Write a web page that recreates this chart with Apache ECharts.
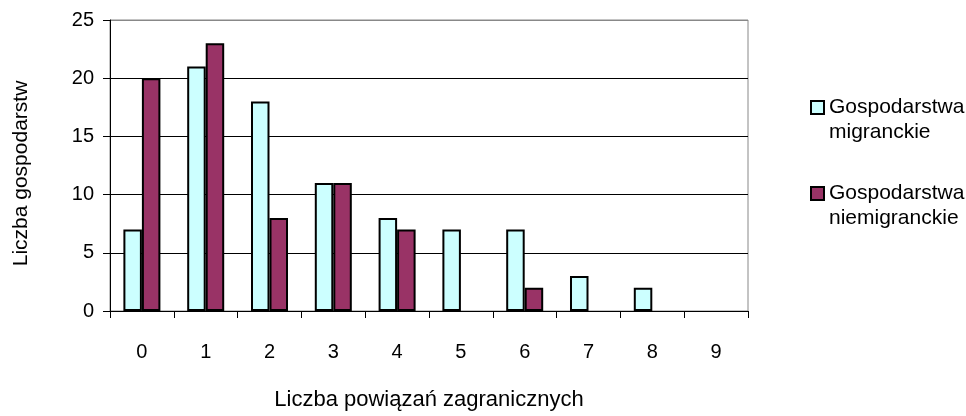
<!DOCTYPE html>
<html><head><meta charset="utf-8">
<script src="https://cdn.jsdelivr.net/npm/echarts@6/dist/echarts.min.js"></script>
<style>html,body{margin:0;padding:0;background:#fff}#c{width:966px;height:416px}</style>
</head><body><div id="c"></div>
<script>
const categories = ['0','1','2','3','4','5','6','7','8','9'];
const migrant = [7,21,18,11,8,7,7,3,2,0];
const nonMigrant = [20,23,8,11,7,0,2,0,0,0];
const seriesNames = ['Gospodarstwa migranckie','Gospodarstwa niemigranckie'];
const legendLines = {'Gospodarstwa migranckie':['Gospodarstwa','migranckie'],'Gospodarstwa niemigranckie':['Gospodarstwa','niemigranckie']};
const yTicks = [0,5,10,15,20,25];
const xTitle = 'Liczba powiązań zagranicznych';
const yTitle = 'Liczba gospodarstw';

const chart = echarts.init(document.getElementById('c'));
const font = 'Liberation Sans, Arial, sans-serif';
const hideZero = arr => arr.map(v => v === 0 ? null : v);
chart.setOption({
  animation:false,
  textStyle:{fontFamily:font},
  grid:{left:110,right:218,top:20,bottom:100,show:true,borderColor:'#888',borderWidth:1},
  legend:{
    orient:'vertical', left:810, top:70, itemGap:11, padding:0,
    itemWidth:13, itemHeight:13, icon:'rect',
    data:seriesNames,
    formatter:n=>' \n'+legendLines[n].join('\n'),
    textStyle:{fontSize:21,color:'#000',fontFamily:font,lineHeight:25},
    itemStyle:{borderColor:'#000',borderWidth:2}
  },
  xAxis:{
    type:'category', data:categories,
    name:xTitle, nameLocation:'middle', nameGap:78,
    nameTextStyle:{fontSize:22,color:'#000',fontFamily:font},
    axisLine:{lineStyle:{color:'#000',width:1}},
    axisTick:{show:true,length:7,lineStyle:{color:'#000'}},
    axisLabel:{fontSize:20,color:'#000',margin:31,fontFamily:font}
  },
  yAxis:{
    type:'value', min:yTicks[0], max:yTicks[yTicks.length-1], interval:5,
    name:yTitle, nameLocation:'middle', nameGap:78,
    nameTextStyle:{fontSize:21,color:'#000',fontFamily:font,padding:[0,16,0,0]},
    axisLine:{show:true,lineStyle:{color:'#000',width:1}},
    axisTick:{show:true,length:7,lineStyle:{color:'#000'}},
    axisLabel:{fontSize:20,color:'#000',margin:16,fontFamily:font},
    splitLine:{show:true,lineStyle:{color:['#000','#000','#000','#000','#000','#888'],width:1}}
  },
  series:[
    {name:seriesNames[0],type:'bar',data:hideZero(migrant),barGap:'0%',barCategoryGap:'42%',
     itemStyle:{color:'#CCFFFF',borderColor:'#000',borderWidth:2}},
    {name:seriesNames[1],type:'bar',data:hideZero(nonMigrant),barGap:'0%',barCategoryGap:'42%',
     itemStyle:{color:'#993366',borderColor:'#000',borderWidth:2}}
  ]
});
</script></body></html>
